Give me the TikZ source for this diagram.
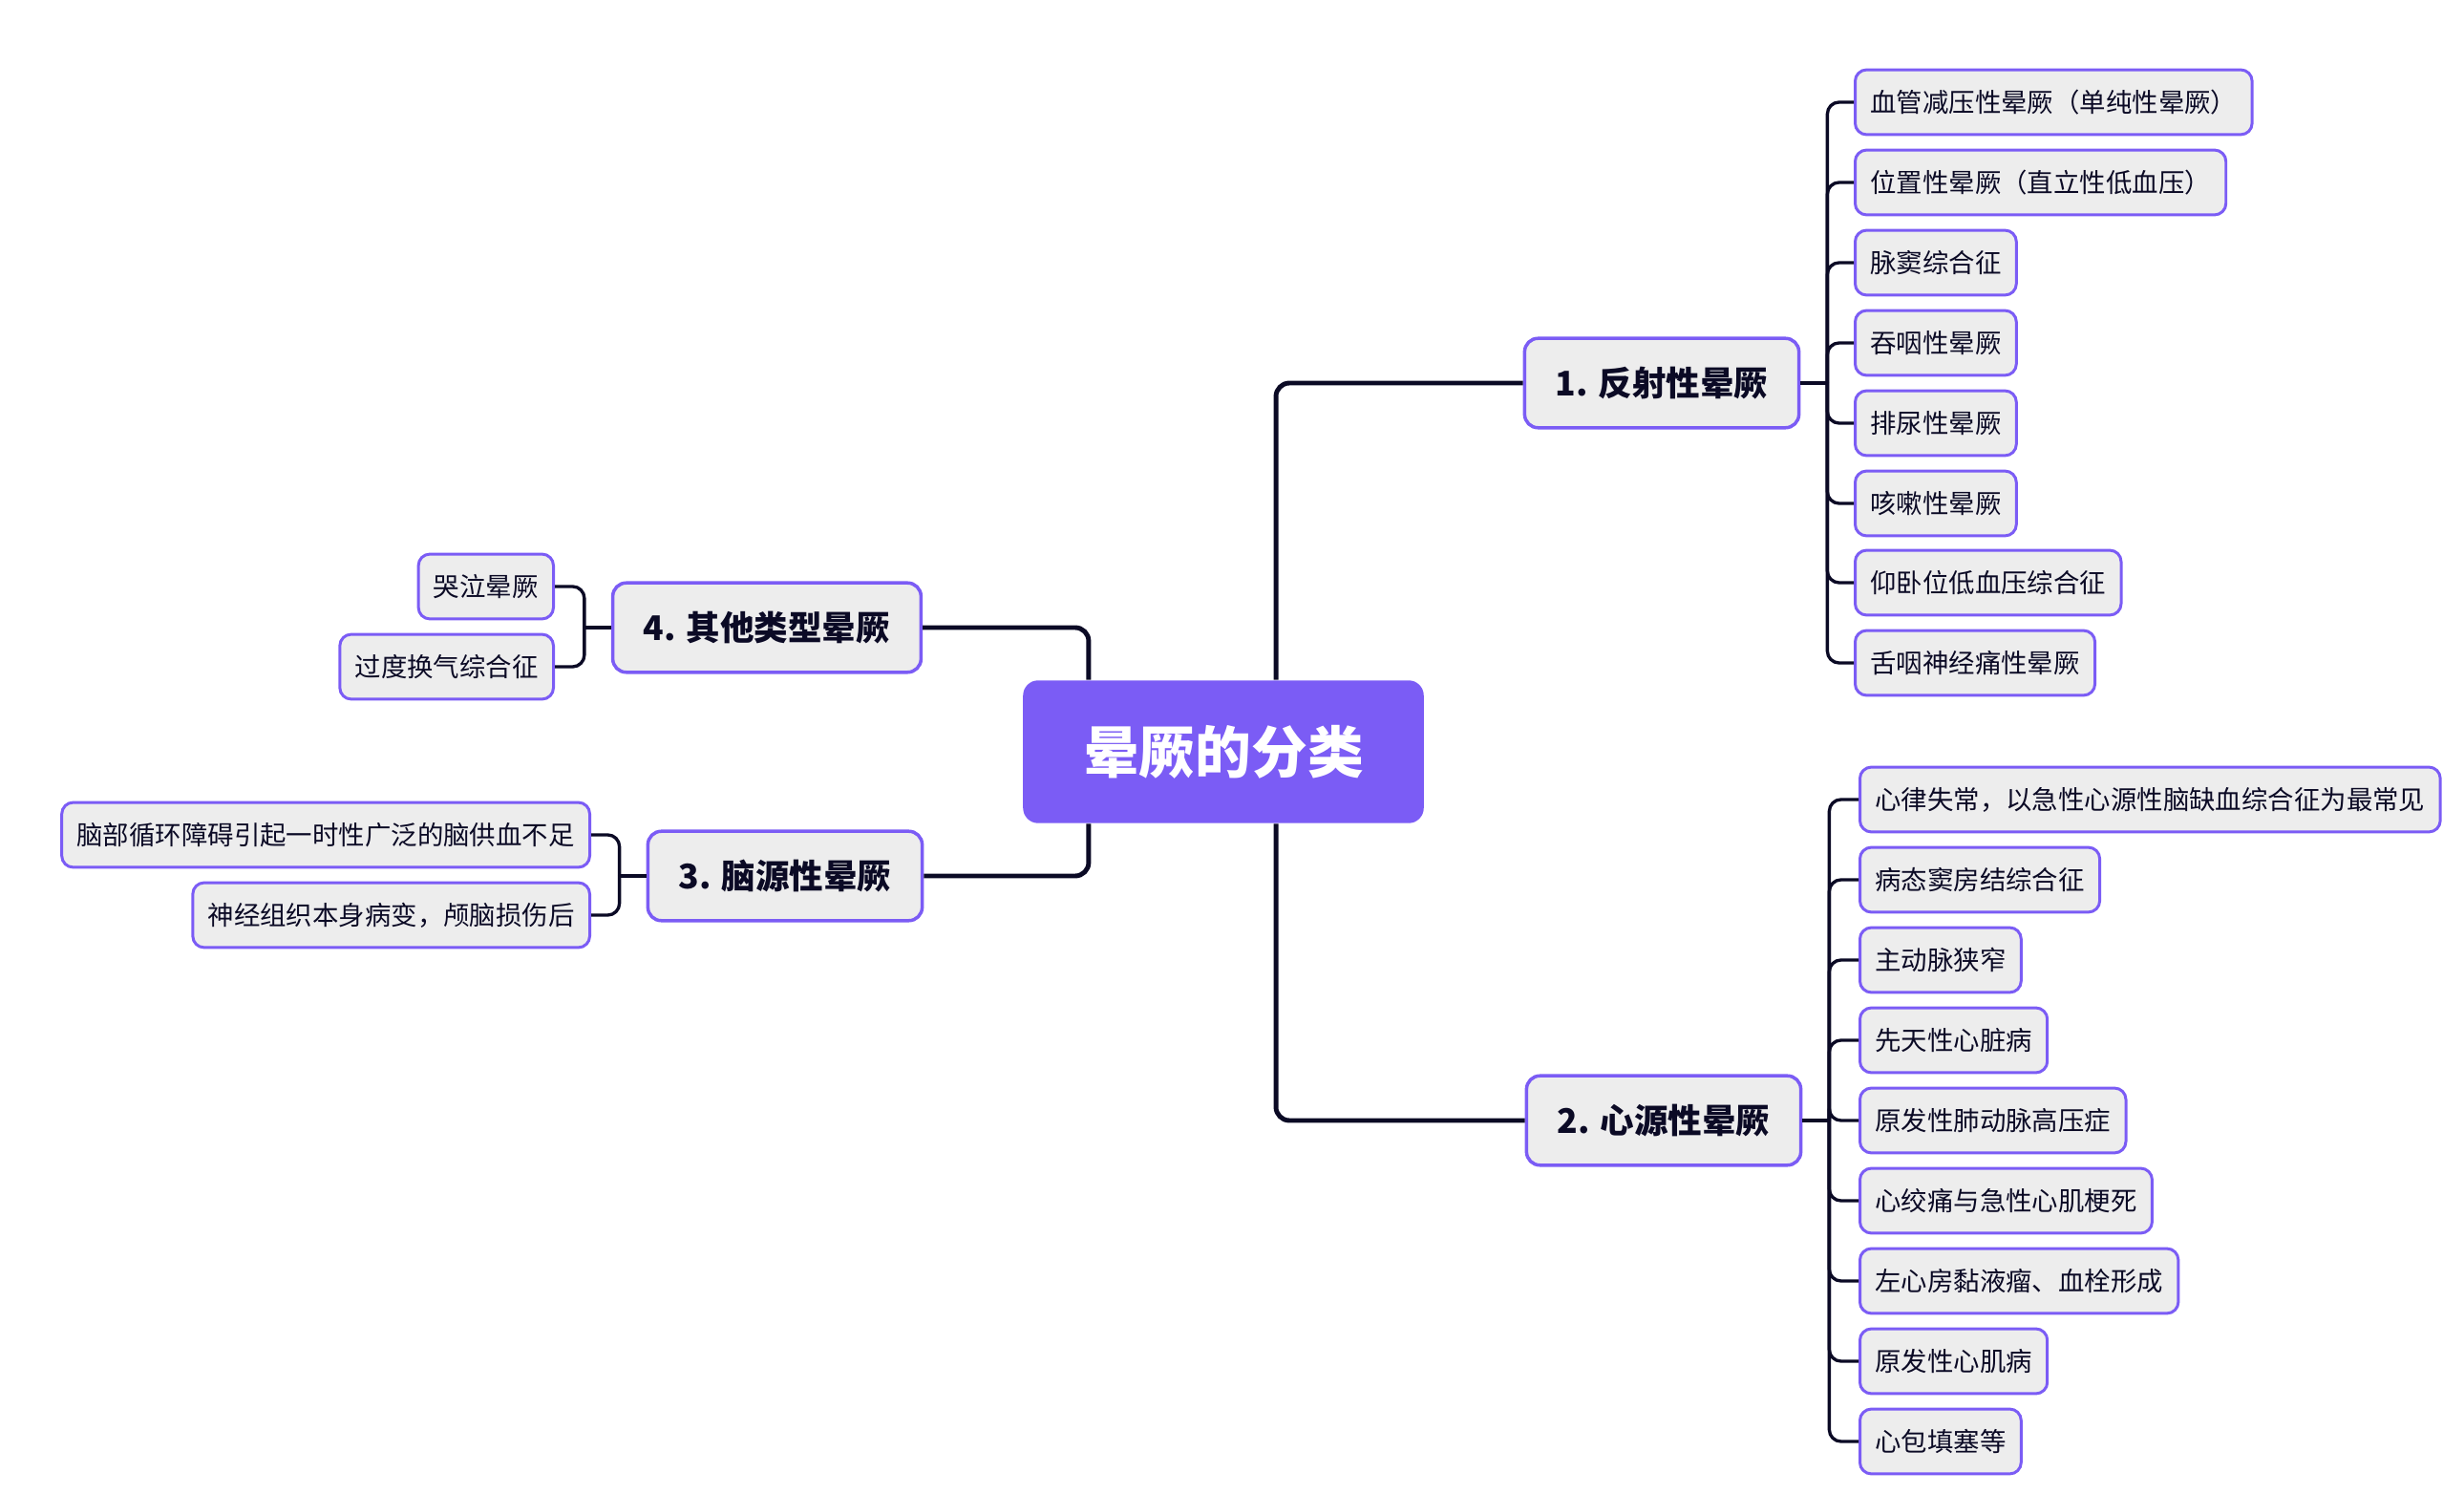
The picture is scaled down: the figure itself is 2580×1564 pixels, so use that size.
\documentclass[tikz,border=0pt]{standalone}
\usepackage{fontspec}
\newfontfamily\cjk{Noto Sans CJK SC}
\definecolor{ink}{HTML}{0B0A25}
\definecolor{mmpurple}{HTML}{7B5CF5}
\definecolor{boxgray}{HTML}{EDEDED}
\tikzstyle{topic}=[rectangle, rounded corners=4.5pt, fill=mmpurple, text=white, minimum height=42.5pt, inner xsep=17.9pt, font=\cjk\bfseries\fontsize{16.7pt}{20pt}\selectfont]
\tikzstyle{branch_box}=[rectangle, rounded corners=4pt, draw=mmpurple, line width=1pt, fill=boxgray, text=ink, minimum height=26.6pt, inner xsep=9.2pt, font=\cjk\bfseries\fontsize{10.1pt}{12pt}\selectfont]
\tikzstyle{leaf_box}=[rectangle, rounded corners=3.4pt, draw=mmpurple, line width=0.85pt, fill=boxgray, text=ink, minimum height=19.3pt, inner xsep=4.5pt, font=\cjk\fontsize{7.8pt}{9pt}\selectfont]
\tikzstyle{main_link}=[draw=ink, line width=1.4pt, rounded corners=4pt]
\tikzstyle{leaf_link}=[draw=ink, line width=0.95pt, rounded corners=3.5pt]

\begin{document}
\begin{tikzpicture}[x=0.01cm, y=-0.01cm]
    \useasboundingbox (0,0) rectangle (2580,1564);

    \node (c) at (1281, 787) [topic] {晕厥的分类};

    \node (b1) at (1740, 401) [branch_box] {1. 反射性晕厥};
    \node (b2) at (1742, 1173) [branch_box] {2. 心源性晕厥};
    \node (b3) at (822, 917) [branch_box] {3. 脑源性晕厥};
    \node (b4) at (803, 657) [branch_box] {4. 其他类型晕厥};

    \node (r1) at (1941, 107) [leaf_box, anchor=west] {血管减压性晕厥（单纯性晕厥）};
    \node (r2) at (1941, 191) [leaf_box, anchor=west] {位置性晕厥（直立性低血压）};
    \node (r3) at (1941, 275) [leaf_box, anchor=west] {脉窦综合征};
    \node (r4) at (1941, 359) [leaf_box, anchor=west] {吞咽性晕厥};
    \node (r5) at (1941, 443) [leaf_box, anchor=west] {排尿性晕厥};
    \node (r6) at (1941, 527) [leaf_box, anchor=west] {咳嗽性晕厥};
    \node (r7) at (1941, 610) [leaf_box, anchor=west] {仰卧位低血压综合征};
    \node (r8) at (1941, 694) [leaf_box, anchor=west] {舌咽神经痛性晕厥};

    \node (h1) at (1946, 837) [leaf_box, anchor=west] {心律失常，以急性心源性脑缺血综合征为最常见};
    \node (h2) at (1946, 921) [leaf_box, anchor=west] {病态窦房结综合征};
    \node (h3) at (1946, 1005) [leaf_box, anchor=west] {主动脉狭窄};
    \node (h4) at (1946, 1089) [leaf_box, anchor=west] {先天性心脏病};
    \node (h5) at (1946, 1173) [leaf_box, anchor=west] {原发性肺动脉高压症};
    \node (h6) at (1946, 1257) [leaf_box, anchor=west] {心绞痛与急性心肌梗死};
    \node (h7) at (1946, 1341) [leaf_box, anchor=west] {左心房黏液瘤、血栓形成};
    \node (h8) at (1946, 1425) [leaf_box, anchor=west] {原发性心肌病};
    \node (h9) at (1946, 1509) [leaf_box, anchor=west] {心包填塞等};

    \node (n1) at (619, 874) [leaf_box, anchor=east] {脑部循环障碍引起一时性广泛的脑供血不足};
    \node (n2) at (619, 958) [leaf_box, anchor=east] {神经组织本身病变，颅脑损伤后};

    \node (o1) at (581, 614) [leaf_box, anchor=east] {哭泣晕厥};
    \node (o2) at (581, 698) [leaf_box, anchor=east] {过度换气综合征};

    % main branches
    \draw[main_link] ([xshift=0.55cm]c.north) |- (b1.west);
    \draw[main_link] ([xshift=0.55cm]c.south) |- (b2.west);
    \draw[main_link] ([xshift=-1.41cm]c.south) |- (b3.east);
    \draw[main_link] ([xshift=-1.41cm]c.north) |- (b4.east);

    % leaves
    \draw[leaf_link] (b1.east) -- ++(28,0) coordinate (t1);
    \foreach \leaf in {r1,r2,r3,r4,r5,r6,r7,r8}
        \draw[leaf_link] (t1) |- (\leaf.west);

    \draw[leaf_link] (b2.east) -- ++(28,0) coordinate (t2);
    \foreach \leaf in {h1,h2,h3,h4,h5,h6,h7,h8,h9}
        \draw[leaf_link] (t2) |- (\leaf.west);

    \draw[leaf_link] (b3.west) -- ++(-28,0) coordinate (t3);
    \foreach \leaf in {n1,n2}
        \draw[leaf_link] (t3) |- (\leaf.east);

    \draw[leaf_link] (b4.west) -- ++(-28,0) coordinate (t4);
    \foreach \leaf in {o1,o2}
        \draw[leaf_link] (t4) |- (\leaf.east);
\end{tikzpicture}
\end{document}
